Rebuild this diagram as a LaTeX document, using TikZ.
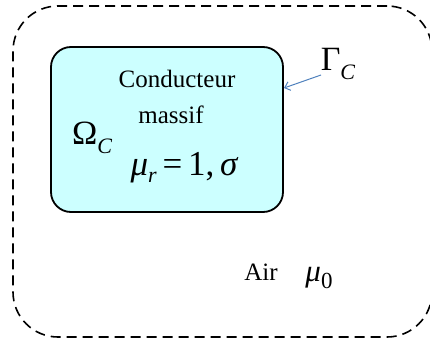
\documentclass[tikz,border=0pt]{standalone}
\usepackage{fontspec}
\setmainfont{Liberation Serif}
\usetikzlibrary{arrows.meta}
\definecolor{condfill}{HTML}{CCFFFF}
\definecolor{arrowblue}{HTML}{4F81BD}
\newcommand{\gsub}[1]{\raisebox{-0.25em}{\fontsize{22}{24}\selectfont\itshape #1}}
\newcommand{\rsub}[1]{\raisebox{-0.22em}{\fontsize{22}{24}\selectfont\itshape #1}}
\begin{document}
\begin{tikzpicture}[x=1pt,y=-1pt,
  txt/.style={inner sep=0pt, anchor=base},
  box/.style={draw=black, line width=1.8pt, rounded corners=20pt}]
\useasboundingbox (0,0) rectangle (430,339);
\node[draw=black, line width=1.6pt, dash pattern=on 10pt off 6pt, rounded corners=45pt,
  minimum width=419pt, minimum height=331pt, inner sep=0pt] (air) at (222.5,171.5) {};
\node[box, fill=condfill, minimum width=232pt, minimum height=165pt, inner sep=0pt] (cond) at (167,129.5) {};
\node[txt, font=\fontsize{25}{27}\selectfont] (t1) at (177,88) {Conducteur};
\node[txt, font=\fontsize{25}{27}\selectfont] (t2) at (171,124) {massif};
\node[txt, font=\fontsize{35}{38}\selectfont] (mur) at (184,175) {\itshape μ\rsub{r}\upshape\,=\,1,\,\itshape σ};
\node[txt, font=\fontsize{34}{36}\selectfont] (om) at (92,145) {Ω\gsub{C}};
\node[txt, font=\fontsize{34}{36}\selectfont] (gam) at (338,71) {Γ\gsub{C}};
\node[txt, font=\fontsize{25}{27}\selectfont] (airt) at (261,280) {Air};
\node[txt, font=\fontsize{31}{33}\selectfont] (mu0) at (319,281) {\itshape μ\upshape\raisebox{-0.25em}{\fontsize{23}{24}\selectfont 0}};
\coordinate (gs) at (321,75);
\coordinate (tip) at (284,88);
\draw[arrowblue, line width=1pt, -{Straight Barb[length=5pt,width=9pt]}] (gs) -- (tip);
\end{tikzpicture}
\end{document}
